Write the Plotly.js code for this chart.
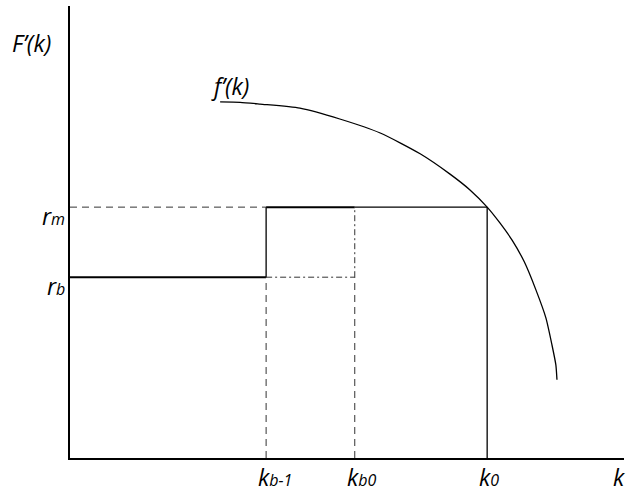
<!DOCTYPE html>
<html>
<head>
<meta charset="utf-8">
<script src="https://cdn.plot.ly/plotly-3.0.1.min.js"></script>
<style>html,body{margin:0;padding:0;background:#fff;}#chart{width:627px;height:496px;}</style>
</head>
<body>
<div id="chart"></div>
<script>
// Key levels (arbitrary units, axes 0..10)
const kNames = ['k', 'k', 'k'];
const kSubs = ['b-1', 'b0', '0'];
const kValues = [3.54, 5.14, 7.53];
const rNames = ['r', 'r'];
const rSubs = ['m', 'b'];
const rValues = [5.55, 4.0];
// f'(k) curve points
const curveK = [2.71, 3.07, 3.43, 4.15, 4.87, 5.60, 6.32, 6.86, 7.22, 7.53, 7.76, 7.98, 8.20, 8.41, 8.59, 8.70, 8.77, 8.79];
const curveF = [7.88, 7.87, 7.83, 7.74, 7.50, 7.19, 6.73, 6.28, 5.93, 5.55, 5.20, 4.82, 4.34, 3.72, 3.10, 2.50, 2.06, 1.73];

const kb1 = kValues[0], kb0 = kValues[1], k0 = kValues[2];
const rm = rValues[0], rb = rValues[1];
const X_MAX = 10, Y_MAX = 10;

const solid = (x, y, w) => ({x, y, mode: 'lines', line: {color: '#000', width: w}, hoverinfo: 'skip', showlegend: false});
const styled = (x, y, w, dash, color) => ({x, y, mode: 'lines', line: {color: color, width: w, dash: dash}, hoverinfo: 'skip', showlegend: false});

const traces = [
  solid([0, kb1], [rb, rb], 2),
  styled([0, kb1], [rm, rm], 1, '7px,5px', '#333'),
  solid([kb1, kb0], [rm, rm], 2),
  solid([kb0, k0], [rm, rm], 1.3),
  solid([kb1, kb1], [rb, rm], 1.3),
  styled([kb1, kb1], [0, rb], 1, '7px,5px', '#333'),
  styled([kb1, kb0], [rb, rb], 1, '6px,3px,2px,3px', '#333'),
  styled([kb0, kb0], [rb, rm], 1, '6px,3px,2px,3px', '#333'),
  styled([kb0, kb0], [0, rb], 1, '7px,5px', '#333'),
  solid([k0, k0], [0, rm], 1.3),
  {x: curveK, y: curveF, mode: 'lines', line: {color: '#000', width: 1.3, shape: 'spline', smoothing: 0.6}, hoverinfo: 'skip', showlegend: false}
];

const font = {family: '"Open Sans", sans-serif', size: 23, color: '#000'};
const withSub = (main, sub) => '<i>' + main + '<span style="font-size:16px">' + sub + '</span></i>';
const ann = (text, x, y, xanchor, yanchor) => ({text: text, x: x / X_MAX, y: y / Y_MAX, xref: 'paper', yref: 'paper', showarrow: false, xanchor: xanchor || 'center', yanchor: yanchor || 'middle', borderpad: 0, font});

const BOTTOM = -0.8;
const annotations = [
  ann('<i>F’(k)</i>', -0.69, 9.18),
  ann('<i>f’(k)</i>', 2.89, 8.23),
  ann('<i>k</i>', 9.91, BOTTOM, 'center', 'bottom')
];
kNames.forEach((n, i) => annotations.push(ann(withSub(n, kSubs[i]), kValues[i] - 0.16, BOTTOM, 'left', 'bottom')));
annotations.push(ann(withSub(rNames[0], rSubs[0]), -0.07, 5.36, 'right'));
annotations.push(ann(withSub(rNames[1], rSubs[1]), -0.07, 3.8, 'right'));

const layout = {
  width: 627, height: 496,
  margin: {l: 70, r: 3, t: 6, b: 38},
  paper_bgcolor: '#fff', plot_bgcolor: '#fff',
  font: {family: '"Open Sans", sans-serif', size: 23, color: '#000'},
  xaxis: {range: [0, X_MAX], showline: true, linewidth: 2, linecolor: '#000', showgrid: false, zeroline: false, showticklabels: false, ticks: '', fixedrange: true},
  yaxis: {range: [0, Y_MAX], showline: true, linewidth: 2, linecolor: '#000', showgrid: false, zeroline: false, showticklabels: false, ticks: '', fixedrange: true},
  annotations,
  showlegend: false
};

Plotly.newPlot('chart', traces, layout, {displayModeBar: false, staticPlot: true});
</script>
</body>
</html>
